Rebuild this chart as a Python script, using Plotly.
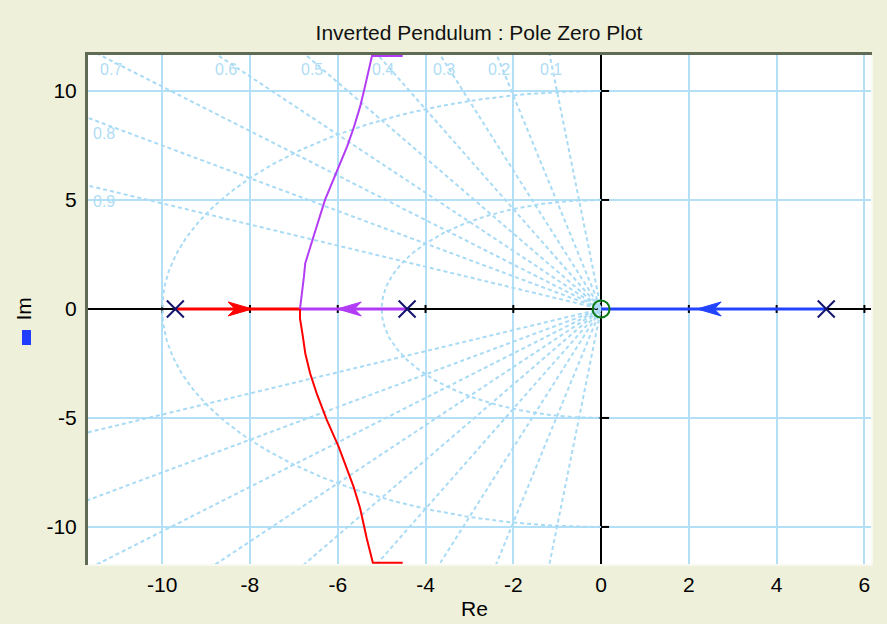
import numpy as np
import plotly.graph_objects as go

# ---------------- data ----------------
poles_re = [-9.70, -4.42, 5.13]
poles_im = [0.0, 0.0, 0.0]
zeros_re = [0.0]
zeros_im = [0.0]

# real-axis locus segments
red_axis_re = [-9.70, -6.86]
purple_axis_re = [-4.42, -6.86]
blue_axis_re = [5.13, 0.0]

# complex branches
upper_re = [-6.86, -6.82, -6.77, -6.74, -6.63, -6.48, -6.29, -6.06, -5.79,
            -5.64, -5.49, -5.38, -5.30, -5.22, -4.52]
upper_im = [0.0, 0.56, 1.48, 2.10, 2.86, 3.78, 5.00, 6.15, 7.44,
            8.29, 9.28, 10.20, 10.96, 11.60, 11.60]
lower_re = [-6.86, -6.86, -6.80, -6.74, -6.63, -6.48, -6.25, -5.98, -5.64,
            -5.49, -5.34, -5.20, -4.52]
lower_im = [0.0, -0.43, -1.19, -2.03, -2.95, -3.87, -5.09, -6.32, -8.15,
            -9.14, -10.52, -11.64, -11.64]

# direction arrows on the real axis
arrow_tips = [-7.95, -6.01, 2.19]
arrow_dirs = [1, -1, -1]

# s-plane grid
zetas = [0.1, 0.2, 0.3, 0.4, 0.5, 0.6, 0.7, 0.8, 0.9]
wns = [5, 10]
top_labels = [0.1, 0.2, 0.3, 0.4, 0.5, 0.6, 0.7]
left_labels = [0.8, 0.9]

x_ticks = [-10, -8, -6, -4, -2, 0, 2, 4, 6]
x_ticktext = ["-10", "-8", "-6", "-4", "-2", "0", "2", "4", "6"]
y_ticks = [-10, -5, 0, 5, 10]
y_ticktext = ["-10", "-5", "0", "5", "10"]

# ---------------- styling ----------------
W, H = 887, 624
ML, MR, MT, MB = 88, 16, 55, 60
XR = [-11.69, 6.15]
YR = [-11.70, 11.65]
kx = (W - ML - MR) / (XR[1] - XR[0])   # px per unit
ky = (H - MT - MB) / (YR[1] - YR[0])

RED = "#FF0000"
PURPLE = "#B23CF5"
BLUE = "#2244FF"
GRID = "#B3E0F7"
SGRID = "#A9DBF5"
FONT = "Liberation Sans, Arial, sans-serif"

fig = go.Figure()

# s-grid damping rays
R = 40
for z in zetas:
    s = np.sqrt(1 - z * z)
    fig.add_trace(go.Scatter(x=[-z * R, 0, -z * R], y=[s * R, 0, -s * R], mode="lines",
                             line=dict(color=SGRID, width=2, dash="4px,3px"),
                             hoverinfo="skip", showlegend=False))
# s-grid natural-frequency semicircles
th = np.linspace(np.pi / 2, 3 * np.pi / 2, 200)
for wn in wns:
    fig.add_trace(go.Scatter(x=wn * np.cos(th), y=wn * np.sin(th), mode="lines",
                             line=dict(color=SGRID, width=2, dash="4px,3px"),
                             hoverinfo="skip", showlegend=False))

# locus
def line(x, y, c, w):
    fig.add_trace(go.Scatter(x=x, y=y, mode="lines", line=dict(color=c, width=w),
                             showlegend=False, hoverinfo="skip"))

line(red_axis_re, [0, 0], RED, 3)
line(purple_axis_re, [0, 0], PURPLE, 3)
line(blue_axis_re, [0, 0], BLUE, 3)
line(upper_re, upper_im, PURPLE, 2)
line(lower_re, lower_im, RED, 2)

# arrowheads
arrow_cols = [RED, PURPLE, BLUE]
L, HH, N = 24, 7, 7
for tip, d, c in zip(arrow_tips, arrow_dirs, arrow_cols):
    bx = tip - d * L / kx
    nx = tip - d * (L - N) / kx
    fig.add_trace(go.Scatter(x=[tip, bx, nx, bx, tip], y=[0, HH / ky, 0, -HH / ky, 0],
                             mode="lines", fill="toself", fillcolor=c,
                             line=dict(color=c, width=1), showlegend=False,
                             hoverinfo="skip"))

# poles & zeros
fig.add_trace(go.Scatter(x=poles_re, y=poles_im, mode="markers",
                         marker=dict(symbol="x-thin", size=17,
                                     line=dict(color="#14146E", width=2)),
                         showlegend=False))
fig.add_trace(go.Scatter(x=zeros_re, y=zeros_im, mode="markers",
                         marker=dict(symbol="circle-open", size=17, color="#0B7A16",
                                     line=dict(width=2)),
                         showlegend=False))

shapes = []
# axis tick marks
for t in x_ticks:
    shapes.append(dict(type="line", xref="x", yref="y", ysizemode="pixel", yanchor=0,
                       x0=t, x1=t, y0=-4, y1=4, line=dict(color="black", width=2),
                       layer="between"))
for t in y_ticks:
    if t == 0:
        continue
    shapes.append(dict(type="line", xref="x", yref="y", xsizemode="pixel", xanchor=0,
                       x0=-3, x1=8, y0=t, y1=t, line=dict(color="black", width=2),
                       layer="between"))
# frame
pw, ph = W - ML - MR, H - MT - MB
shapes.append(dict(type="line", xref="paper", yref="paper", x0=-1.5 / pw, x1=-1.5 / pw,
                   y0=-1 / ph, y1=1 + 2 / ph, line=dict(color="#5F6B55", width=3), layer="above"))
shapes.append(dict(type="line", xref="paper", yref="paper", x0=-3 / pw, x1=1 + 1 / pw,
                   y0=1 + 1.5 / ph, y1=1 + 1.5 / ph, line=dict(color="#5F6B55", width=3), layer="above"))
shapes.append(dict(type="line", xref="paper", yref="paper", x0=1 + 1 / pw, x1=1 + 1 / pw,
                   y0=-1 / ph, y1=1, line=dict(color="#F8F9F0", width=2), layer="above"))
shapes.append(dict(type="line", xref="paper", yref="paper", x0=0, x1=1 + 1 / pw,
                   y0=-1 / ph, y1=-1 / ph, line=dict(color="#F8F9F0", width=2), layer="above"))
# blue marker under "Im"
shapes.append(dict(type="rect", xref="paper", yref="paper",
                   x0=(22 - ML) / pw, x1=(31 - ML) / pw,
                   y0=(H - MB - 345) / ph, y1=(H - MB - 330) / ph,
                   fillcolor="#1F3CFF", line=dict(width=0)))

annotations = []
lab_font = dict(family=FONT, size=16, color="#B0DDF5")
for z in top_labels:
    s = np.sqrt(1 - z * z)
    yy = YR[1] - 0.25
    annotations.append(dict(x=-z * yy / s, y=YR[1], xref="x", yref="y", text=f"{z:.1f}",
                            showarrow=False, xanchor="center", yanchor="top", yshift=-4,
                            font=lab_font))
for z in left_labels:
    s = np.sqrt(1 - z * z)
    annotations.append(dict(x=XR[0], y=-XR[0] * s / z, xref="x", yref="y", text=f"{z:.1f}",
                            showarrow=False, xanchor="left", yanchor="top", xshift=3, yshift=-5,
                            font=lab_font))
annotations.append(dict(x=(474 - ML) / pw, y=(H - MB - 608) / ph, xref="paper", yref="paper",
                        text="Re", showarrow=False, xanchor="center", yanchor="middle",
                        font=dict(family=FONT, size=21, color="black")))
annotations.append(dict(x=(23 - ML) / pw, y=0.5, xref="paper", yref="paper",
                        text="Im", showarrow=False, xanchor="center", yanchor="middle",
                        textangle=-90, font=dict(family=FONT, size=21, color="black")))

fig.update_layout(
    width=W, height=H,
    margin=dict(l=ML, r=MR, t=MT, b=MB),
    paper_bgcolor="#EEF0DA", plot_bgcolor="white",
    title=dict(text="Inverted Pendulum : Pole Zero Plot", x=479 / W, xanchor="center",
               y=1 - 33 / H, yanchor="middle",
               font=dict(family=FONT, size=21, color="#111111")),
    shapes=shapes, annotations=annotations, showlegend=False,
)
fig.update_xaxes(range=XR, tickvals=x_ticks, ticktext=x_ticktext, showgrid=True,
                 gridcolor=GRID, gridwidth=2,
                 zeroline=True, zerolinecolor="black", zerolinewidth=2, showline=False,
                 ticks="outside", ticklen=2, tickcolor="rgba(0,0,0,0)",
                 tickfont=dict(family=FONT, size=21, color="black"))
fig.update_yaxes(range=YR, tickvals=y_ticks, ticktext=y_ticktext, showgrid=True,
                 gridcolor=GRID, gridwidth=2,
                 zeroline=True, zerolinecolor="black", zerolinewidth=2, showline=False,
                 ticks="outside", ticklen=6, tickcolor="rgba(0,0,0,0)",
                 tickfont=dict(family=FONT, size=21, color="black"))

fig.write_html("out.html")
